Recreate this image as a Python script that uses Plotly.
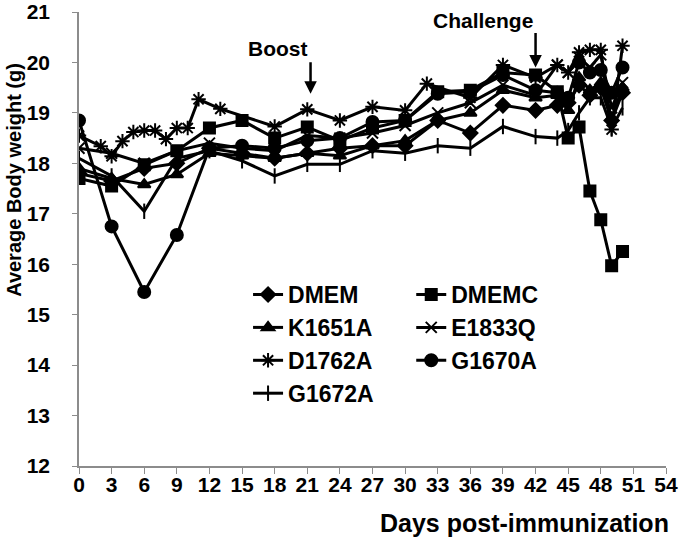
import plotly.graph_objects as go

# days post-immunization (common schedule)
days = [0, 3, 6, 9, 12, 15, 18, 21, 24, 27, 30, 33, 36, 39, 42, 44, 45, 46, 47, 48, 49, 50]

dmem = [17.80, 17.65, 17.90, 18.00, 18.30, 18.20, 18.10, 18.20, 18.30, 18.35, 18.35, 18.85, 18.60,
        19.15, 19.05, 19.15, 19.20, 19.55, 19.35, 19.50, 18.85, 19.40]
dmemc = [17.70, 17.55, 17.97, 18.25, 18.70, 18.85, 18.50, 18.72, 18.45, 18.70, 18.85, 19.42, 19.45,
         19.80, 19.75, 19.42, 18.50, 18.72, 17.45, 16.88, 15.97, 16.25]
k1651a = [17.90, 17.70, 17.58, 17.78, 18.20, 18.15, 18.10, 18.20, 18.15, 18.35, 18.45, 18.85, 19.00,
          19.45, 19.30, 19.35, 19.05, 19.70, 19.45, 19.60, 18.90, 19.50]
e1833q = [18.30, 18.20, 18.00, 18.25, 18.40, 18.30, 18.25, 18.55, 18.50, 18.60, 18.75, 19.00, 19.20,
          19.55, 19.35, 19.95, 19.80, 20.10, 19.90, 20.15, 19.10, 19.60]
g1670a = [18.85, 16.75, 15.45, 16.58, 18.30, 18.35, 18.30, 18.45, 18.50, 18.82, 18.85, 19.38, 19.42,
          19.75, 19.45, 19.40, 19.30, 20.00, 19.80, 19.85, 19.40, 19.90]
g1672a = [18.10, 17.75, 17.05, 18.10, 18.25, 18.05, 17.75, 17.98, 17.98, 18.25, 18.20, 18.35, 18.30,
          18.73, 18.53, 18.50, 18.65, 19.00, 19.30, 19.30, 18.70, 19.10]

# D1762A was weighed on a denser schedule early on
d1762a_days = [0, 2, 3, 4, 5, 6, 7, 8, 9, 10, 11, 13, 18, 21, 24, 27, 30, 32, 36, 39, 42, 44, 45,
               46, 47, 48, 49, 50]
d1762a = [18.55, 18.34, 18.14, 18.44, 18.62, 18.65, 18.65, 18.48, 18.70, 18.70, 19.27, 19.08, 18.73,
          19.07, 18.85, 19.12, 19.05, 19.58, 19.30, 19.95, 19.70, 19.95, 19.80, 20.20, 20.25, 20.25,
          18.67, 20.33]

x_ticks = list(range(0, 55, 3))

font = "Liberation Sans, Arial, sans-serif"

# name, x, y, symbol, size, legend column
series = [
    ("DMEM", days, dmem, "diamond", 11, "legend"),
    ("DMEMC", days, dmemc, "square", 11, "legend2"),
    ("K1651A", days, k1651a, "triangle-up", 11, "legend"),
    ("E1833Q", days, e1833q, "x-thin-open", 11, "legend2"),
    ("D1762A", d1762a_days, d1762a, "asterisk-open", 12, "legend"),
    ("G1670A", days, g1670a, "circle", 12, "legend2"),
    ("G1672A", days, g1672a, "line-ns-open", 11, "legend"),
]

fig = go.Figure()
for name, xs, ys, sym, sz, leg in series:
    fig.add_trace(go.Scatter(
        x=xs, y=ys, name=name, mode="lines+markers", legend=leg,
        line=dict(color="black", width=3),
        marker=dict(symbol=sym, size=sz, color="black", line=dict(color="black", width=2)),
    ))

leg_style = dict(
    orientation="v", y=0.425, yanchor="top", xanchor="left", bgcolor="rgba(0,0,0,0)",
    font=dict(size=23, family=font, weight="bold"), itemwidth=30, tracegroupgap=0,
)

fig.update_layout(
    width=680, height=552,
    margin=dict(l=79, r=14, t=12, b=86),
    paper_bgcolor="white", plot_bgcolor="white",
    font=dict(family=font, color="black"),
    showlegend=True,
    legend=dict(x=0.288, **leg_style),
    legend2=dict(x=0.566, **leg_style),
)

fig.update_xaxes(
    range=[0, 54], tickvals=x_ticks, showline=True, linecolor="#8c8c8c", linewidth=1.5,
    ticks="outside", ticklen=6, tickcolor="#8c8c8c", showgrid=False, zeroline=False,
    tickfont=dict(size=21, family=font, weight="bold"), ticklabeloverflow="allow",
    automargin=False, ticklabelstandoff=-7,
)
fig.update_yaxes(
    range=[12, 21], dtick=1, showline=True, linecolor="#8c8c8c", linewidth=1.5,
    ticks="outside", ticklen=5, tickcolor="#8c8c8c", showgrid=False, zeroline=False,
    tickfont=dict(size=21, family=font, weight="bold"), ticklabelstandoff=18,
    ticklabeloverflow="allow", automargin=False,
)

# axis titles
fig.add_annotation(text="Days post-immunization", xref="paper", yref="paper", x=1.008, y=-0.125,
                   xanchor="right", yanchor="middle", showarrow=False,
                   font=dict(size=25, family=font, weight="bold"))
fig.add_annotation(text="Average Body weight (g)", xref="paper", yref="paper", x=-0.111, y=0.63,
                   xanchor="center", yanchor="middle", textangle=-90, showarrow=False,
                   font=dict(size=20, family=font, weight="bold"))

# event markers
fig.add_annotation(text="Boost", x=18.3, y=20.27, xref="x", yref="y", showarrow=False,
                   font=dict(size=21, family=font, weight="bold"))
fig.add_annotation(text="", x=21.3, y=19.38, xref="x", yref="y", showarrow=True,
                   ax=0, ay=-33, arrowhead=2, arrowsize=1, arrowwidth=2.5, arrowcolor="black")
fig.add_annotation(text="Challenge", x=37.2, y=20.84, xref="x", yref="y", showarrow=False,
                   font=dict(size=21, family=font, weight="bold"))
fig.add_annotation(text="", x=42.0, y=19.9, xref="x", yref="y", showarrow=True,
                   ax=0, ay=-36, arrowhead=2, arrowsize=1, arrowwidth=2.5, arrowcolor="black")

fig.write_html("out.html", config={"displayModeBar": False},
               post_script="document.body.style.margin='0px';")
